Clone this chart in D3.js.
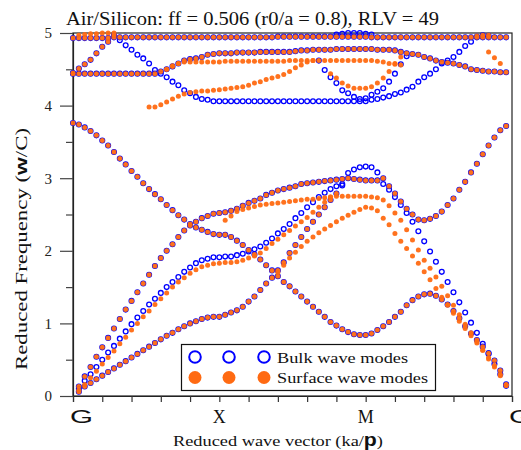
<!DOCTYPE html>
<html><head><meta charset="utf-8">
<script src="https://cdn.jsdelivr.net/npm/d3@7"></script>
<style>body{margin:0;background:#fff}</style>
</head><body>
<svg id="c" width="521" height="450"></svg>
<script>
// ---------------- DATA ----------------
const kStep = 0.2;            // sampling step along the G-X-M-G path (tick units)
const nPoints = 75;
const kTicks = [0, 5, 10, 15];
const kTickLabels = ["G", "X", "M", "G"];
const kMinorTicks = d3.range(0, 16);
const freqTicks = [0, 1, 2, 3, 4, 5];
const freqMinorTicks = [0.5, 1.5, 2.5, 3.5, 4.5];
const titleText = "Air/Silicon: ff = 0.506 (r0/a = 0.8), RLV = 49";
const legendLabels = ["Bulk wave modes", "Surface wave modes"];

function pad(start, vals) { // place read values at their sample index
  const a = new Array(nPoints).fill(null);
  vals.forEach((v, j) => { a[start + j] = v; });
  return a;
}

// Bulk / shared bands (index i -> k = i*0.2)
const bandB1 = pad(1, [0.06,0.13,0.18,0.23,0.28,0.33,0.38,0.43,0.48,0.53,
  0.58,0.63,0.68,0.73,0.78,0.83,0.87,0.92,0.96,1.00,
  1.03,1.06,1.08,1.09,1.09,
  1.12,1.15,1.18,1.23,1.30,1.37,1.46,1.55,1.63,1.73,
  1.84,1.97,2.08,2.19,2.30,2.40,2.50,2.60,2.70,2.79,
  2.90,3.07,3.12,3.15,3.16,3.15,3.08,
  3.00,2.89,2.79,2.68,2.58,2.50,
  2.43,2.42,2.44,2.48,2.54,2.63,2.72,2.84,2.95,3.08,3.20,3.33,3.45,3.56,3.66,3.72]);
const bandB2 = pad(0, [3.76,3.74,3.70,3.65,3.59,3.52,3.45,3.36,3.27,3.19,
  3.10,3.02,2.93,2.85,2.78,2.71,2.63,2.56,2.49,2.43,
  2.37,2.32,2.29,2.26,2.23,2.22,
  2.22,2.19,2.14,2.08,2.01,1.95,1.88,1.80,1.73,1.65,
  1.57,1.51,1.44,1.37,1.30,1.23,1.16,1.09,1.02,0.97,
  0.92,0.88,0.85,0.84,0.84,
  0.86,0.91,0.96,1.02,1.09,1.16,1.25,1.32,1.37,1.40,
  1.41,1.38,1.33,1.26,1.17,1.07,0.96,0.86,0.77,0.68,0.59,0.49,0.35,0.14]);
const bandB4 = pad(1, [0.10,0.21,0.30,0.40,0.50,0.60,0.69,0.79,0.89,0.99,
  1.08,1.17,1.26,1.34,1.42,1.50,1.57,1.64,1.71,1.77,
  1.83,1.87,1.89,1.91,1.91,1.92,1.92,1.94,1.96,1.99,
  2.02,2.06,2.11,2.17,2.24,2.30,2.37,2.45,2.52,2.60,
  2.67,2.74,2.80,2.85,2.89,2.92]);
const bandB5 = pad(1, [0.13,0.27,0.40,0.54,0.67,0.80,0.93,1.06,1.19,1.31,
  1.43,1.55,1.67,1.79,1.90,2.00,2.09,2.19,2.28,2.35,
  2.40,2.45,2.48,2.51,2.52,2.53,2.55,2.58,2.62,2.66,
  2.69,2.72,2.77,2.80,2.83,2.85,2.87,2.89,2.92,2.93,
  2.94,2.95,2.96,2.97,2.98,2.99,3.00,2.99,2.98,2.97,
  2.97,2.97,2.92,2.84,2.74,2.63,2.52,2.40,2.27,2.13,
  1.99,1.85,1.71,1.57,1.43,1.29,1.15,1.01,0.87,0.72,0.58,0.44,0.30,0.16]);
const bandU1 = pad(0, [4.93,4.93,4.93,4.93,4.93,4.93,4.93,4.94,4.94,4.94,
  4.94,4.94,4.94,4.94,4.94,4.94,4.94,4.94,4.94,4.94,
  4.94,4.94,4.94,4.94,4.94,4.94,4.94,4.94,4.94,4.94,
  4.94,4.94,4.94,4.94,4.94,4.95,4.95,4.95,4.95,4.95,
  4.95,4.95,4.95,4.95,4.95,4.95,4.95,4.95,4.95,4.95,
  4.95,4.94,4.94,4.94,4.94,4.94,4.94,4.94,4.94,4.94,
  4.94,4.94,4.94,4.94,4.94,4.94,4.94,4.94,4.94,4.94,4.94,4.94,4.94,4.94,4.94]);
const bandU1b = pad(45, [4.98,4.99,5.00,5.00,5.00,4.99,4.98]);
const bandU2 = pad(0, [4.44,4.44,4.44,4.44,4.44,4.44,4.44,4.44,4.44,4.44,
  4.44,4.44,4.44,4.44,4.44,
  4.47,4.50,4.54,4.58,4.62,4.64,4.65,4.67,4.70,4.71,4.72,
  4.72,4.72,4.73,4.73,4.73,4.73,4.74,4.74,4.74,4.74,4.74,4.74,
  4.75,4.76,4.76,4.77,4.77,4.77,4.77,4.78,4.78,4.78,4.78,4.78,4.78,4.78,4.77,4.77,4.77,
  4.76,4.74,4.72,4.71,4.70,4.67,4.65,4.62,4.60,4.59,4.58,4.56,4.54,4.50,4.49,4.48,4.47,4.47,4.46,4.46]);
const bandU3 = pad(0, [4.45,4.51,4.57,4.63,4.72,4.81,4.88,4.97,4.90,4.83,
  4.77,4.70,4.65,4.58,4.49,4.44,4.39,4.33,4.28,4.21,
  4.17,4.12,4.09,4.08,4.06,
  4.06,4.06,4.06,4.06,4.06,4.06,4.06,4.06,4.06,4.06,4.06,4.06,4.06,
  4.06,4.06,4.06,4.06,4.06,4.06,4.06,4.06,4.06,4.06,4.06,4.06,4.06,
  4.08,4.09,4.11,4.13,4.16,4.18,4.22,4.26,4.33,4.39,
  4.44,4.50,4.58,4.62,4.67,4.74,4.82,4.88,4.95,4.97,4.96]);
const bandU4 = pad(42, [4.62,4.49,4.39,4.31,4.21,4.17,4.12,4.09,4.10,4.15,4.19,4.24,4.33,4.44,4.57,4.68]);

// Surface-only bands
const surfS4 = pad(1, [0.08,0.16,0.25,0.34,0.44,0.53,0.62,0.72,0.81,0.91,
  1.00,1.09,1.17,1.26,1.34,1.42,1.50,1.57,1.63,1.69,
  1.74,1.78,1.80,1.82,1.83,1.84,1.84,1.85,1.87,1.90,
  1.93,1.97,2.03,2.10,2.16,2.22,2.28,2.34,2.40,2.46,
  2.53,2.60,2.67,2.74]);
const surfSa = pad(26, [2.42,2.48,2.54,2.57,2.59,2.61,2.63,2.64,2.65,2.66,
  2.67,2.68,2.69,2.70,2.71,2.71,2.72,2.73,2.74,2.75,
  2.75,2.75,2.75,2.75,2.75,2.74,2.73,2.70,2.62,2.52,
  2.42,2.29,2.15,2.01,1.87,1.76,1.64,1.51,1.38,1.25,
  1.12,0.99,0.87,0.75,0.63,0.51,0.40,0.28,0.15]);
const surfSb = pad(35, [1.70,1.80,1.90,1.98,2.06,2.13,2.19,2.25,2.30,2.35,
  2.40,2.45,2.49,2.53,2.57,2.60,2.59,2.55,2.45,2.36,
  2.24,2.13,2.03,1.93,1.83,1.71,1.60,1.48,1.36,1.25,
  1.14,1.03,0.93,0.83,0.73,0.63,0.53,0.42,0.30,0.16]);
const surfTop = pad(1, [4.97,4.98,4.99,4.99,5.00,5.00,5.00]);
const surfTopRight = pad(69, [4.96,4.97,4.97]);
const surfRight = pad(71, [4.74,4.66,4.58]);
const surfShelf = pad(13, [3.98,3.98,4.01,4.05,4.09,4.13,4.16,4.18,4.19,4.20,
  4.20,4.21,4.22,4.23,4.24,4.25,4.26,4.28,4.31,4.33,
  4.36,4.38,4.40,4.43,4.47,4.52,4.56,4.60,4.62]);
const surfFlat46 = pad(16, [4.50,4.55,4.58,4.60,4.60,4.60,4.60,4.60,4.60,4.60,
  4.61,4.61,4.61,4.61,4.61,4.61,4.61,4.61,4.61,4.61,
  4.61,4.62,4.62,4.62,4.62,4.62,4.62,4.62,4.62,4.62,
  4.62,4.62,4.62,4.62,4.62,4.62,4.61,4.60,4.58,4.57,4.56]);
const surfDip = pad(44, [4.44,4.38,4.31,4.27,4.24,4.24,4.24,4.26,4.31,4.38,4.47,4.58,4.67]);

const bulkBands = [bandU1, bandU1b, bandU2, bandU3, bandU4, bandB1, bandB2, bandB4, bandB5];
// surface series: [band, first index, last index]
const surfaceBands = [
  [bandU1, 0, 74], [surfTop, 0, 74], [surfTopRight, 0, 74], [surfRight, 0, 74],
  [bandU2, 0, 74], [bandU3, 0, 7], [surfShelf, 0, 74], [surfFlat46, 0, 74], [surfDip, 0, 74],
  [bandB1, 0, 45], [bandB1, 53, 74], [bandB2, 0, 74], [bandB5, 0, 52],
  [surfS4, 0, 74], [surfSa, 0, 74], [surfSb, 0, 74]
];

// ---------------- DRAW ----------------
const W = 521, H = 450;
const svg = d3.select("#c");
const x = d3.scaleLinear().domain([0, 15]).range([73, 512]);
const y = d3.scaleLinear().domain([0, 5]).range([396, 33]);
const BLUE = "#0000ff", ORANGE = "#ff6a12";
const serif = "'Liberation Serif','Times New Roman',serif";
const sans = "'Liberation Sans',Arial,sans-serif";

function pts(band, a = 0, b = nPoints - 1) {
  const out = [];
  band.forEach((v, i) => { if (v != null && i >= a && i <= b) out.push([i * kStep, v]); });
  return out;
}

// frame
svg.append("rect").attr("x", x(0)).attr("y", y(5)).attr("width", x(15) - x(0)).attr("height", y(0) - y(5))
  .attr("fill", "none").attr("stroke", "#222").attr("stroke-width", 1.2);

// y axis ticks
const yAxis = d3.axisLeft(y).tickValues(freqTicks).tickSize(13).tickFormat(d3.format("d"));
const gy = svg.append("g").attr("transform", `translate(${x(0)},0)`).call(yAxis);
gy.select(".domain").attr("stroke", "#222").attr("stroke-width", 1.2);
gy.selectAll(".tick line").attr("stroke", "#444").attr("stroke-width", 1.2);
gy.selectAll(".tick text").attr("font-family", serif).attr("font-size", 15).attr("fill", "#222").attr("x", -21);
const gy2 = svg.append("g").attr("transform", `translate(${x(0)},0)`)
  .call(d3.axisLeft(y).tickValues(freqMinorTicks).tickSize(7).tickFormat(""));
gy2.select(".domain").remove();
gy2.selectAll(".tick line").attr("stroke", "#444").attr("stroke-width", 1.2);

// x axis ticks
const gx = svg.append("g").attr("transform", `translate(0,${y(0)})`)
  .call(d3.axisBottom(x).tickValues(kMinorTicks).tickSize(6).tickFormat(""));
gx.select(".domain").attr("stroke", "#222").attr("stroke-width", 1.2);
gx.selectAll(".tick line").attr("stroke", "#333").attr("stroke-width", 1.2);

kTicks.forEach((k, j) => {
  const lab = kTickLabels[j];
  if (lab === "G") {
    svg.append("text").attr("x", x(k) - 3).attr("y", 423).attr("font-family", sans).attr("font-size", 18)
      .attr("textLength", 23).attr("lengthAdjust", "spacingAndGlyphs").attr("fill", "#111").text(lab);
  } else {
    svg.append("text").attr("x", x(k)).attr("y", 423).attr("text-anchor", "middle").attr("font-family", serif)
      .attr("font-size", 18).attr("fill", "#111").text(lab);
  }
});

// title
svg.append("text").attr("x", 66).attr("y", 25).attr("font-family", serif).attr("font-size", 19)
  .attr("textLength", 373).attr("lengthAdjust", "spacingAndGlyphs").attr("fill", "#111").text(titleText);

// x axis title
const xt = svg.append("text").attr("x", 173).attr("y", 446).attr("font-family", serif).attr("font-size", 15.5)
  .attr("textLength", 210).attr("lengthAdjust", "spacingAndGlyphs").attr("fill", "#111");
xt.append("tspan").text("Reduced wave vector (ka/");
xt.append("tspan").attr("font-family", sans).attr("font-weight", "bold").attr("font-size", 18).text("p");
xt.append("tspan").text(")");

// y axis title
const yt = svg.append("text").attr("transform", "translate(27,249) rotate(-90)").attr("text-anchor", "middle")
  .attr("font-family", serif).attr("font-size", 17).attr("textLength", 242).attr("lengthAdjust", "spacingAndGlyphs")
  .attr("fill", "#111");
yt.append("tspan").text("Reduced Frequency (");
yt.append("tspan").attr("font-family", sans).attr("font-weight", "bold").text("w");
yt.append("tspan").text("/C)");

// bulk circles
const gb = svg.append("g");
bulkBands.forEach(b => {
  gb.selectAll(null).data(pts(b)).enter().append("circle")
    .attr("cx", d => x(d[0])).attr("cy", d => y(d[1])).attr("r", 2.4)
    .attr("fill", "none").attr("stroke", BLUE).attr("stroke-width", 1.3);
});
// surface dots
const gs = svg.append("g");
surfaceBands.forEach(([b, a, e]) => {
  gs.selectAll(null).data(pts(b, a, e)).enter().append("circle")
    .attr("cx", d => x(d[0])).attr("cy", d => y(d[1])).attr("r", 2.5)
    .attr("fill", ORANGE).attr("opacity", 0.95);
});

// legend
const lg = svg.append("g");
lg.append("rect").attr("x", 181.5).attr("y", 344.5).attr("width", 254).attr("height", 46)
  .attr("fill", "#fff").attr("stroke", "#111").attr("stroke-width", 1.2);
[195, 229, 264].forEach(cx => {
  lg.append("circle").attr("cx", cx).attr("cy", 357).attr("r", 5.8).attr("fill", "none")
    .attr("stroke", BLUE).attr("stroke-width", 2);
  lg.append("circle").attr("cx", cx).attr("cy", 377.5).attr("r", 6.5).attr("fill", ORANGE);
});
lg.append("text").attr("x", 277).attr("y", 363).attr("font-family", serif).attr("font-size", 15)
  .attr("textLength", 131).attr("lengthAdjust", "spacingAndGlyphs").attr("fill", "#111").text(legendLabels[0]);
lg.append("text").attr("x", 277).attr("y", 383).attr("font-family", serif).attr("font-size", 15)
  .attr("textLength", 151).attr("lengthAdjust", "spacingAndGlyphs").attr("fill", "#111").text(legendLabels[1]);
</script>
</body></html>
